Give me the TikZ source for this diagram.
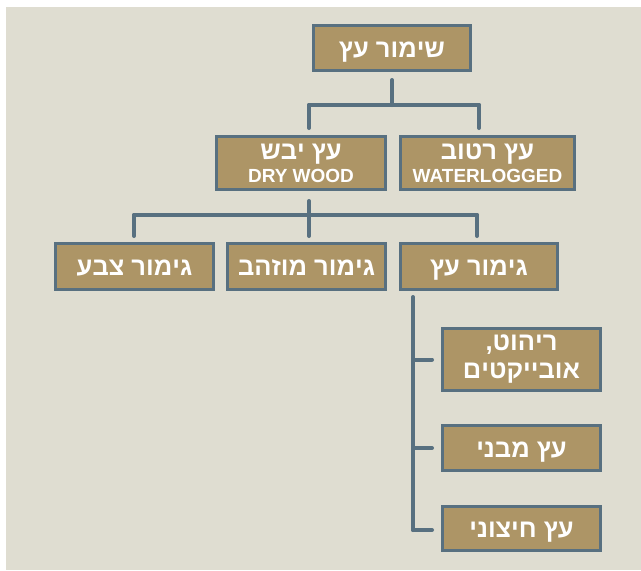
\documentclass[tikz,border=0pt]{standalone}
\usepackage{fontspec}
\setmainfont{Liberation Sans}
\TeXXeTstate=1
\definecolor{bgc}{HTML}{DFDDD1}
\definecolor{boxfill}{HTML}{AD9566}
\definecolor{edge}{HTML}{587080}
\tikzset{
  box/.style={draw=edge, line width=3pt, fill=boxfill, text=white, inner sep=1pt,
    font=\bfseries\fontsize{25.5}{28}\selectfont, align=center},
  onebox/.style={box, text height=18pt, text depth=0pt},
  conn/.style={draw=edge, line width=4pt, line cap=round}
}
\newcommand{\engl}[1]{{\fontsize{19}{20}\selectfont #1}}
\begin{document}
\begin{tikzpicture}[x=1pt,y=-1pt]
\fill[white] (0,0) rectangle (641,571);
\fill[bgc] (6,7) rectangle (641,570);
\useasboundingbox (0,0) rectangle (641,571);

\node[onebox, minimum width=157pt, minimum height=45pt] (top) at (392,48) {\beginR שימור עץ\endR};

\node[box, minimum width=169pt, minimum height=53pt] (dry) at (301,163)
  {\beginR עץ יבש\endR\\[-5pt]\engl{DRY WOOD}};
\node[box, minimum width=174pt, minimum height=53pt] (wet) at (487.5,163)
  {\beginR עץ רטוב\endR\\[-5pt]\engl{WATERLOGGED}};

\node[onebox, minimum width=158pt, minimum height=46pt] (paint) at (134.5,266.5) {\beginR גימור צבע\endR};
\node[onebox, minimum width=158pt, minimum height=46pt] (gild) at (306.5,266.5) {\beginR גימור מוזהב\endR};
\node[onebox, minimum width=157pt, minimum height=46pt] (wood) at (479,266.5) {\beginR גימור עץ\endR};

\node[box, minimum width=158pt, minimum height=62pt] (furn) at (521.5,359.5)
  {\beginR ריהוט,\endR\\[0pt]\beginR אובייקטים\endR};
\node[onebox, minimum width=158pt, minimum height=45pt] (arch) at (521.5,448) {\beginR עץ מבני\endR};
\node[onebox, minimum width=158pt, minimum height=44pt] (ext) at (521.5,528.5) {\beginR עץ חיצוני\endR};

% level 1
\coordinate (j1) at (392,105);
\coordinate (jL) at (309,105);
\coordinate (jR) at (479,105);
\draw[conn, shorten <=8pt] (top.south) -- (j1);
\draw[conn] (jL) -- (jR);
\draw[conn, shorten >=7pt] (jL) -- (jL |- dry.north);
\draw[conn, shorten >=7pt] (jR) -- (jR |- wet.north);

% level 2
\coordinate (k2) at (309,215);
\coordinate (k1) at (134,215);
\coordinate (k3) at (477,215);
\draw[conn, shorten <=10pt] (k2 |- dry.south) -- (k2);
\draw[conn] (k1) -- (k3);
\draw[conn, shorten >=6pt] (k1) -- (k1 |- paint.north);
\draw[conn, shorten >=6pt] (k2) -- (k2 |- gild.north);
\draw[conn, shorten >=6pt] (k3) -- (k3 |- wood.north);

% level 3
\coordinate (s0) at (413,291);
\coordinate (s1) at (413,530);
\draw[conn, shorten <=6pt] (s0) -- (s1);
\draw[conn, shorten >=9pt] (s0 |- furn.west) -- (furn.west);
\draw[conn, shorten >=9pt] (s0 |- arch.west) -- (arch.west);
\draw[conn, shorten >=9pt] (s1) -- (s1 -| ext.west);
\end{tikzpicture}
\end{document}
